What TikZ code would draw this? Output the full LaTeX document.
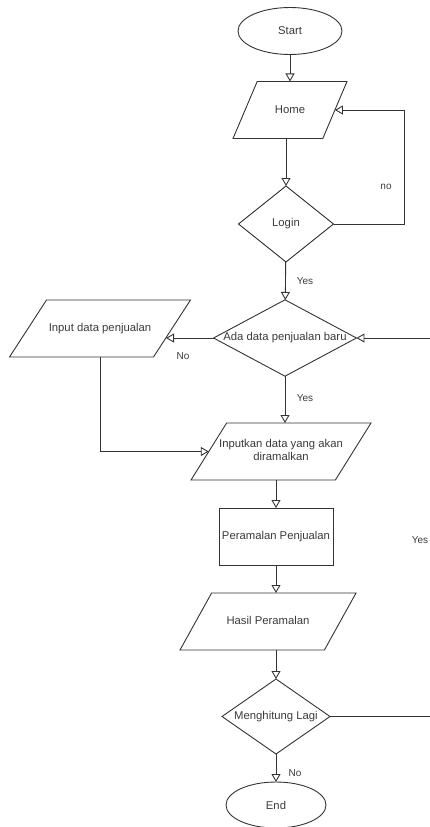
\documentclass[tikz,border=0pt]{standalone}
\usepackage{fontspec}
\setmainfont{Liberation Sans}
\usepackage{xcolor}
\usepackage{tikz}
\usetikzlibrary{arrows.meta,shapes.geometric,calc}
\definecolor{linegray}{HTML}{333333}
\definecolor{textgray}{HTML}{3A3A3A}

\begin{document}
\begin{tikzpicture}
		[x=1pt,y=-1pt,
		base/.style={draw=linegray,line width=0.9pt,text=textgray,
			font=\fontsize{11.3}{13.5}\selectfont,inner sep=0pt,outer sep=0pt,align=center},
		terminal/.style={base,ellipse},
		io/.style={base,trapezium,trapezium stretches body=true,
			trapezium left angle=#1,trapezium right angle=\the\numexpr180-#1\relax,
			text height=8.5,text depth=2.5,inner ysep=23,minimum height=0},
		process/.style={base,rectangle},
		decision/.style={base,diamond},
		lbl/.style={text=textgray,font=\fontsize{10}{12}\selectfont,inner sep=0pt},
		arr/.style={draw=linegray,line width=0.9pt,-{Triangle[open,length=8pt,width=9pt]}},
		line/.style={draw=linegray,line width=0.9pt}]
		\useasboundingbox (0,0) rectangle (430,827);
		\clip (0,0) rectangle (430,827);
		% nodes
		\node[terminal,minimum width=104,minimum height=47] (start) at (290,31) {Start};
		\node[io=67,minimum width=114] (home) at (290,110) {Home};
		\node[decision,aspect=1.25,minimum width=95,minimum height=76] (login) at (286,224) {Login};
		\node[decision,aspect=1.87,minimum width=142,minimum height=76] (ada) at (285,338) {Ada data penjualan baru};
		\node[io=57,minimum width=181] (input) at (100,328.5) {Input data penjualan};
		\node[io=58,minimum width=180,text height=,text depth=,inner ysep=15,inner xsep=-8] (inputkan) at (281,451.5)
			{\begin{tabular}{@{}c@{}}Inputkan data yang akan\\diramalkan\end{tabular}};
		\node[process,minimum width=114,minimum height=57] (ramal) at (276,536.5) {Peramalan Penjualan};
		\node[io=61,minimum width=176] (hasil) at (268,621.5) {Hasil Peramalan};
		\node[decision,aspect=1.44,minimum width=108,minimum height=75] (lagi) at (276,716.5) {Menghitung Lagi};
		\node[terminal,minimum width=100,minimum height=46] (end) at (276,805) {End};
		% labels
		\node[lbl] (noLogin) at (386,187) {no};
		\node[lbl] (yesLogin) at (305,281) {Yes};
		\node[lbl] (noAda) at (183,356) {No};
		\node[lbl] (yesAda) at (305,398) {Yes};
		\node[lbl] (yesLagi) at (420,540) {Yes};
		\node[lbl] (noLagi) at (295,773) {No};
		% connectors
		\draw[arr] (start) -- (home);
		\draw[arr] (home.south -| login.north) -- (login.north);
		\draw[arr] (login.east) -- ++(71,0) |- (home.east);
		\draw[arr] (login) -- (ada);
		\draw[arr] (ada.west) -- ($(ada.west -| input.east)+(-6,0)$);
		\draw[arr] (input.south) |- (inputkan.west);
		\draw[arr] (ada.south) -- (ada.south |- inputkan.north);
		\draw[arr] (ramal.north |- inputkan.south) -- (ramal.north);
		\draw[arr] (ramal.south) -- (ramal.south |- hasil.north);
		\draw[arr] (lagi.north |- hasil.south) -- (lagi.north);
		\draw[arr] (lagi.east) -- ++(115,0) |- (ada.east);
		\draw[arr] (lagi) -- (end);
\end{tikzpicture}
\end{document}
